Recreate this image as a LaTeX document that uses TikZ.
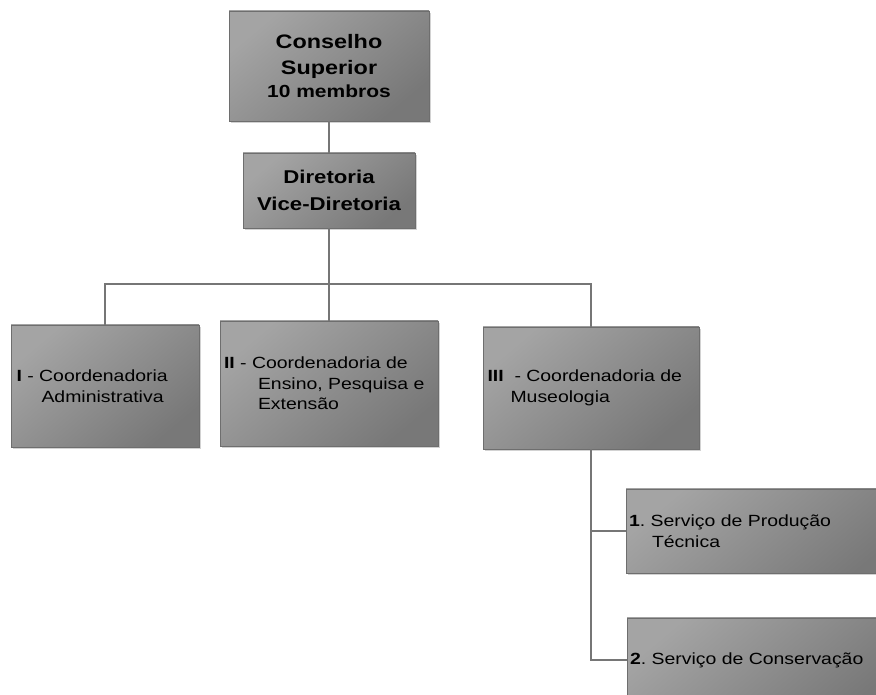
\documentclass[tikz,border=0pt]{standalone}
\usepackage{fontspec}
\setmainfont[FakeStretch=1.2]{Liberation Sans}
\frenchspacing
\usetikzlibrary{shadows}
\definecolor{boxlight}{RGB}{164,164,164}
\definecolor{boxdark}{RGB}{120,120,120}
\definecolor{boxline}{RGB}{110,110,110}
\definecolor{conn}{RGB}{118,118,118}
\tikzset{
  orgbox/.style={draw=boxline, line width=0.6pt, top color=boxlight, bottom color=boxdark,
    shading angle=40, drop shadow={shadow xshift=1.5pt, shadow yshift=-2.5pt, opacity=0.35},
    rectangle, inner sep=0pt, outer sep=0pt},
  topbox/.style={orgbox, align=center},
  unitbox/.style={orgbox, align=left, font=\fontsize{16.2}{20.5}\selectfont},
  conn/.style={draw=conn, line width=1.6pt}
}
\begin{document}
\begin{tikzpicture}[x=1pt,y=1pt]
\clip (0,0) rectangle (876,695);
\useasboundingbox (0,0) rectangle (876,695);
\fill[white] (0,0) rectangle (876,695);

\node[topbox, minimum width=200, minimum height=110, font=\bfseries\fontsize{19.5}{26}\selectfont] (cs) at (329,629)
  {Conselho\\Superior\\[-3pt]\fontsize{17.5}{26}\selectfont 10 membros};
\node[topbox, minimum width=172, minimum height=75, font=\bfseries\fontsize{18.5}{27}\selectfont] (dir) at (329,504.5)
  {Diretoria\\Vice-Diretoria};

\node[unitbox, minimum width=188, minimum height=122, text width=181, inner xsep=0pt] (c1) at (105,309)
  {\hspace*{2pt}\textbf{I} - Coordenadoria\\\hspace*{27pt}Administrativa};
\node[unitbox, minimum width=218, minimum height=125, text width=210] (c2) at (329,311.5)
  {\textbf{II} - Coordenadoria de\\\hspace*{34pt}Ensino, Pesquisa e\\\hspace*{34pt}Extensão};
\node[unitbox, minimum width=216, minimum height=122, text width=207] (c3) at (591,307)
  {\textbf{III}\ \ - Coordenadoria de\\\hspace*{23pt}Museologia};

\node[unitbox, minimum width=284, minimum height=84, text width=278] (s1) at (768,164)
  {\textbf{1}. Serviço de Produção\\\hspace*{23pt}Técnica};
\node[unitbox, minimum width=284, minimum height=84, text width=278] (s2) at (769,35)
  {\textbf{2}. Serviço de Conservação};

\coordinate (bus) at (329,411);
\draw[conn] (cs.south) -- (dir.north);
\draw[conn] (dir.south) -- (bus);
\draw[conn] (c1.north) |- (bus) -| (c3.north);
\draw[conn] (bus) -- (c2.north);
\draw[conn] (c3.south) |- (s2.west);
\draw[conn] (c3.south |- s1.west) -- (s1.west);
\end{tikzpicture}
\end{document}
